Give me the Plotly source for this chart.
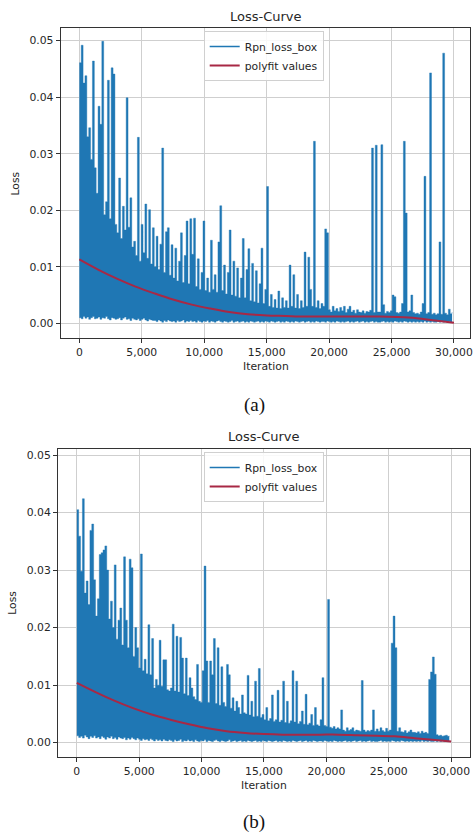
import plotly.graph_objects as go

W, H = 473, 835

# ---------------- data ----------------
BIN_STEP = 150  # iterations per bin
ITER_A = list(range(0, 30000, BIN_STEP))
ITER_B = list(range(0, 30000, BIN_STEP))

HIGH_A = [
    0.0461, 0.0492, 0.0425, 0.0438, 0.0330, 0.0346, 0.0290, 0.0464, 0.0275, 0.0230,
    0.0384, 0.0352, 0.0499, 0.0192, 0.0215, 0.0430, 0.0185, 0.0452, 0.0441, 0.0175,
    0.0160, 0.0257, 0.0150, 0.0207, 0.0165, 0.0399, 0.0170, 0.0222, 0.0135, 0.0145,
    0.0120, 0.0329, 0.0110, 0.0175, 0.0125, 0.0211, 0.0115, 0.0201, 0.0105, 0.0169,
    0.0100, 0.0154, 0.0095, 0.0140, 0.0310, 0.0090, 0.0162, 0.0169, 0.0085, 0.0139,
    0.0080, 0.0133, 0.0075, 0.0110, 0.0160, 0.0072, 0.0120, 0.0181, 0.0070, 0.0185,
    0.0122, 0.0186, 0.0065, 0.0114, 0.0060, 0.0090, 0.0181, 0.0058, 0.0080, 0.0055,
    0.0147, 0.0060, 0.0086, 0.0055, 0.0144, 0.0208, 0.0058, 0.0103, 0.0052, 0.0090,
    0.0165, 0.0050, 0.0110, 0.0048, 0.0098, 0.0045, 0.0080, 0.0150, 0.0045, 0.0095,
    0.0132, 0.0040, 0.0106, 0.0038, 0.0093, 0.0036, 0.0070, 0.0133, 0.0035, 0.0060,
    0.0242, 0.0030, 0.0051, 0.0028, 0.0042, 0.0027, 0.0057, 0.0026, 0.0045, 0.0028,
    0.0040, 0.0027, 0.0103, 0.0030, 0.0086, 0.0027, 0.0051, 0.0026, 0.0040, 0.0028,
    0.0126, 0.0030, 0.0117, 0.0060, 0.0030, 0.0322, 0.0028, 0.0040, 0.0026, 0.0035,
    0.0030, 0.0167, 0.0160, 0.0024, 0.0020, 0.0030, 0.0022, 0.0026, 0.0021, 0.0028,
    0.0022, 0.0030, 0.0019, 0.0025, 0.0030, 0.0020, 0.0023, 0.0018, 0.0024, 0.0020,
    0.0019, 0.0022, 0.0018, 0.0021, 0.0020, 0.0023, 0.0310, 0.0019, 0.0315, 0.0020,
    0.0020, 0.0316, 0.0033, 0.0018, 0.0021, 0.0019, 0.0022, 0.0050, 0.0047, 0.0019,
    0.0018, 0.0020, 0.0035, 0.0322, 0.0195, 0.0020, 0.0022, 0.0050, 0.0019, 0.0017,
    0.0018, 0.0016, 0.0020, 0.0035, 0.0260, 0.0017, 0.0019, 0.0443, 0.0016, 0.0018,
    0.0015, 0.0017, 0.0144, 0.0016, 0.0478, 0.0018, 0.0015, 0.0025, 0.0017, 0.0020,
]

LOW_A = [
    0.0010, 0.0008, 0.0012, 0.0009, 0.0011, 0.0007, 0.0010, 0.0012, 0.0008, 0.0009,
    0.0011, 0.0007, 0.0010, 0.0009, 0.0012, 0.0008, 0.0006, 0.0010, 0.0009, 0.0007,
    0.0008, 0.0010, 0.0006, 0.0009, 0.0011, 0.0007, 0.0008, 0.0005, 0.0009, 0.0007,
    0.0006, 0.0008, 0.0005, 0.0007, 0.0009, 0.0006, 0.0004, 0.0007, 0.0006, 0.0005,
    0.0005, 0.0003, 0.0006, 0.0004, 0.0002, 0.0005, 0.0003, 0.0006, 0.0004, 0.0003,
    0.0004, 0.0002, 0.0005, 0.0003, 0.0004, 0.0006, 0.0002, 0.0004, 0.0003, 0.0005,
    0.0003, 0.0004, 0.0002, 0.0005, 0.0003, 0.0002, 0.0004, 0.0003, 0.0005, 0.0002,
    0.0004, 0.0003, 0.0002, 0.0004, 0.0005, 0.0003, 0.0002, 0.0004, 0.0003, 0.0002,
    0.0003, 0.0005, 0.0002, 0.0003, 0.0004, 0.0002, 0.0003, 0.0004, 0.0002, 0.0003,
    0.0002, 0.0004, 0.0003, 0.0002, 0.0003, 0.0004, 0.0002, 0.0003, 0.0002, 0.0004,
    0.0003, 0.0002, 0.0004, 0.0003, 0.0002, 0.0003, 0.0004, 0.0002, 0.0003, 0.0002,
    0.0004, 0.0003, 0.0002, 0.0003, 0.0002, 0.0004, 0.0003, 0.0002, 0.0003, 0.0004,
    0.0002, 0.0003, 0.0004, 0.0002, 0.0003, 0.0002, 0.0004, 0.0003, 0.0002, 0.0003,
    0.0003, 0.0002, 0.0004, 0.0003, 0.0002, 0.0003, 0.0002, 0.0004, 0.0003, 0.0002,
    0.0003, 0.0002, 0.0003, 0.0004, 0.0002, 0.0003, 0.0002, 0.0003, 0.0004, 0.0002,
    0.0003, 0.0004, 0.0002, 0.0003, 0.0002, 0.0003, 0.0004, 0.0002, 0.0003, 0.0002,
    0.0002, 0.0003, 0.0004, 0.0002, 0.0003, 0.0002, 0.0003, 0.0002, 0.0004, 0.0003,
    0.0002, 0.0003, 0.0002, 0.0004, 0.0003, 0.0002, 0.0003, 0.0002, 0.0003, 0.0002,
    0.0003, 0.0002, 0.0003, 0.0002, 0.0004, 0.0002, 0.0003, 0.0002, 0.0003, 0.0002,
    0.0002, 0.0003, 0.0002, 0.0003, 0.0002, 0.0003, 0.0002, 0.0003, 0.0002, 0.0003,
]

HIGH_B = [
    0.0405, 0.0359, 0.0298, 0.0424, 0.0260, 0.0281, 0.0240, 0.0369, 0.0380, 0.0283,
    0.0220, 0.0250, 0.0327, 0.0330, 0.0335, 0.0342, 0.0300, 0.0215, 0.0246, 0.0200,
    0.0309, 0.0180, 0.0213, 0.0234, 0.0170, 0.0323, 0.0213, 0.0165, 0.0319, 0.0304,
    0.0150, 0.0200, 0.0165, 0.0130, 0.0328, 0.0125, 0.0145, 0.0120, 0.0205, 0.0118,
    0.0181, 0.0095, 0.0110, 0.0100, 0.0178, 0.0098, 0.0144, 0.0144, 0.0092, 0.0090,
    0.0095, 0.0206, 0.0090, 0.0185, 0.0088, 0.0183, 0.0147, 0.0085, 0.0147, 0.0082,
    0.0113, 0.0095, 0.0080, 0.0075, 0.0136, 0.0072, 0.0070, 0.0125, 0.0307, 0.0142,
    0.0070, 0.0142, 0.0118, 0.0181, 0.0068, 0.0165, 0.0065, 0.0132, 0.0070, 0.0063,
    0.0136, 0.0118, 0.0060, 0.0078, 0.0055, 0.0072, 0.0061, 0.0050, 0.0083, 0.0052,
    0.0050, 0.0117, 0.0048, 0.0072, 0.0045, 0.0107, 0.0046, 0.0129, 0.0044, 0.0049,
    0.0040, 0.0061, 0.0038, 0.0042, 0.0083, 0.0037, 0.0040, 0.0091, 0.0036, 0.0039,
    0.0107, 0.0035, 0.0072, 0.0034, 0.0038, 0.0125, 0.0036, 0.0107, 0.0033, 0.0037,
    0.0055, 0.0032, 0.0084, 0.0031, 0.0034, 0.0049, 0.0030, 0.0061, 0.0031, 0.0029,
    0.0040, 0.0113, 0.0030, 0.0028, 0.0249, 0.0027, 0.0025, 0.0028, 0.0024, 0.0026,
    0.0024, 0.0057, 0.0022, 0.0020, 0.0026, 0.0021, 0.0023, 0.0026, 0.0020, 0.0022,
    0.0021, 0.0020, 0.0108, 0.0022, 0.0019, 0.0021, 0.0020, 0.0022, 0.0057, 0.0020,
    0.0024, 0.0020, 0.0026, 0.0021, 0.0019, 0.0025, 0.0020, 0.0022, 0.0173, 0.0220,
    0.0165, 0.0020, 0.0026, 0.0019, 0.0018, 0.0021, 0.0017, 0.0019, 0.0022, 0.0018,
    0.0018, 0.0017, 0.0019, 0.0016, 0.0020, 0.0017, 0.0018, 0.0016, 0.0110, 0.0123,
    0.0149, 0.0119, 0.0014, 0.0012, 0.0013, 0.0011, 0.0012, 0.0013, 0.0011, 0.0012,
]

LOW_B = [
    0.0012, 0.0009, 0.0011, 0.0008, 0.0013, 0.0010, 0.0007, 0.0011, 0.0009, 0.0012,
    0.0008, 0.0010, 0.0007, 0.0011, 0.0009, 0.0006, 0.0010, 0.0008, 0.0011, 0.0007,
    0.0009, 0.0006, 0.0010, 0.0008, 0.0007, 0.0009, 0.0005, 0.0008, 0.0006, 0.0009,
    0.0007, 0.0005, 0.0008, 0.0006, 0.0004, 0.0007, 0.0005, 0.0006, 0.0004, 0.0007,
    0.0005, 0.0003, 0.0006, 0.0004, 0.0005, 0.0003, 0.0006, 0.0004, 0.0003, 0.0005,
    0.0004, 0.0002, 0.0005, 0.0003, 0.0004, 0.0006, 0.0002, 0.0004, 0.0003, 0.0005,
    0.0003, 0.0004, 0.0002, 0.0005, 0.0003, 0.0002, 0.0004, 0.0003, 0.0005, 0.0002,
    0.0004, 0.0003, 0.0002, 0.0004, 0.0005, 0.0003, 0.0002, 0.0004, 0.0003, 0.0002,
    0.0003, 0.0005, 0.0002, 0.0003, 0.0004, 0.0002, 0.0003, 0.0004, 0.0002, 0.0003,
    0.0002, 0.0004, 0.0003, 0.0002, 0.0003, 0.0004, 0.0002, 0.0003, 0.0002, 0.0004,
    0.0003, 0.0002, 0.0004, 0.0003, 0.0002, 0.0003, 0.0004, 0.0002, 0.0003, 0.0002,
    0.0004, 0.0003, 0.0002, 0.0003, 0.0002, 0.0004, 0.0003, 0.0002, 0.0003, 0.0004,
    0.0002, 0.0003, 0.0004, 0.0002, 0.0003, 0.0002, 0.0004, 0.0003, 0.0002, 0.0003,
    0.0003, 0.0002, 0.0004, 0.0003, 0.0002, 0.0003, 0.0002, 0.0004, 0.0003, 0.0002,
    0.0003, 0.0002, 0.0003, 0.0004, 0.0002, 0.0003, 0.0002, 0.0003, 0.0004, 0.0002,
    0.0003, 0.0004, 0.0002, 0.0003, 0.0002, 0.0003, 0.0004, 0.0002, 0.0003, 0.0002,
    0.0002, 0.0003, 0.0004, 0.0002, 0.0003, 0.0002, 0.0003, 0.0002, 0.0004, 0.0003,
    0.0002, 0.0003, 0.0002, 0.0004, 0.0003, 0.0002, 0.0003, 0.0002, 0.0003, 0.0002,
    0.0003, 0.0002, 0.0003, 0.0002, 0.0004, 0.0002, 0.0003, 0.0002, 0.0003, 0.0002,
    0.0002, 0.0003, 0.0002, 0.0003, 0.0002, 0.0003, 0.0002, 0.0003, 0.0002, 0.0003,
]

FIT_ITER = [0, 1500, 3000, 4500, 6000, 7500, 9000, 10500, 12000, 13500, 15000,
            16500, 18000, 19500, 21000, 22500, 24000, 25500, 27000, 28500, 30000]
FIT_A = [0.0113, 0.0095, 0.0079, 0.0065, 0.0053, 0.0042, 0.0033, 0.0026, 0.0020, 0.0016,
         0.0014, 0.0013, 0.0012, 0.0012, 0.0012, 0.0012, 0.0012, 0.0011, 0.0009, 0.0005, 0.0001]
FIT_B = [0.0104, 0.0088, 0.0073, 0.0060, 0.0049, 0.0040, 0.0032, 0.0025, 0.0020, 0.0017,
         0.0015, 0.0014, 0.0014, 0.0014, 0.0014, 0.0013, 0.0012, 0.0011, 0.0008, 0.0005, 0.0002]

X_TICKS = [0, 5000, 10000, 15000, 20000, 25000, 30000]
Y_TICKS = [0.00, 0.01, 0.02, 0.03, 0.04, 0.05]
TITLE = "Loss-Curve"
SERIES_NAME = "Rpn_loss_box"
FIT_NAME = "polyfit values"

# ---------------- style ----------------
BLUE = "#1f77b4"
RED = "#a82845"
FONT = "DejaVu Sans"
FS = 10.8
TXT = "#262626"


def px(x):
    return x / W


def py(y):
    return 1 - y / H


fig = go.Figure()

panels = [
    dict(iters=ITER_A, low=LOW_A, high=HIGH_A, fit=FIT_A, xa="x", ya="y", legend="legend",
         left=61, top=28, bottom=338.3, xr=[-1500, 31284], yr=[-0.002654, 0.052247],
         title_y=17, xlab_y=366.5, ylab_x=15.5, cap_y=405, center_x=268, cap="(a)"),
    dict(iters=ITER_B, low=LOW_B, high=HIGH_B, fit=FIT_B, xa="x2", ya="y2", legend="legend2",
         left=58.3, top=449, bottom=756.7, xr=[-1513, 31512], yr=[-0.002433, 0.051043],
         title_y=436.7, xlab_y=785.5, ylab_x=13, cap_y=822, center_x=266, cap="(b)"),
]

for p in panels:
    # lower envelope of the dense loss trace
    fig.add_trace(go.Scatter(x=p["iters"], y=p["low"], mode="lines",
                             line=dict(color=BLUE, width=0.4, shape="hv"),
                             xaxis=p["xa"], yaxis=p["ya"], showlegend=False, hoverinfo="skip"))
    # upper envelope, filled down to the lower one
    fig.add_trace(go.Scatter(x=p["iters"], y=p["high"], mode="lines",
                             line=dict(color=BLUE, width=0.4, shape="hv"),
                             fill="tonexty", fillcolor=BLUE,
                             xaxis=p["xa"], yaxis=p["ya"], showlegend=False, hoverinfo="skip"))
    # legend entry for the loss series
    fig.add_trace(go.Scatter(x=[None], y=[None], mode="lines", name=SERIES_NAME,
                             line=dict(color=BLUE, width=1.6), xaxis=p["xa"], yaxis=p["ya"],
                             legend=p["legend"]))
    fig.add_trace(go.Scatter(x=FIT_ITER, y=p["fit"], mode="lines", name=FIT_NAME,
                             line=dict(color=RED, width=2, shape="spline"),
                             xaxis=p["xa"], yaxis=p["ya"], legend=p["legend"], hoverinfo="skip"))

axis_common = dict(showgrid=True, gridcolor="#cfcfcf", gridwidth=0.8, zeroline=False,
                   showline=True, linecolor="#333333", linewidth=1, mirror=True,
                   ticks="outside", ticklen=4, tickcolor="#333333", tickwidth=0.8,
                   ticklabeloverflow="allow",
                   tickfont=dict(family=FONT, size=FS, color=TXT))

layout = dict(width=W, height=H, margin=dict(l=0, r=0, t=0, b=0),
              paper_bgcolor="white", plot_bgcolor="white", showlegend=True,
              font=dict(family=FONT, size=FS, color=TXT))

annotations = []
for i, p in enumerate(panels):
    sfx = "" if i == 0 else "2"
    layout["xaxis" + sfx] = dict(axis_common, domain=[px(p["left"]), 1.0], range=p["xr"],
                                 tickvals=X_TICKS, tickformat=",d", anchor="y" + sfx)
    layout["yaxis" + sfx] = dict(axis_common, domain=[py(p["bottom"]), py(p["top"])],
                                 range=p["yr"], tickvals=Y_TICKS, tickformat=".2f",
                                 anchor="x" + sfx)
    layout[p["legend"]] = dict(x=px(205), y=py(p["top"] + 3), xanchor="left", yanchor="top",
                               bgcolor="rgba(255,255,255,0.85)", bordercolor="#d0d0d0",
                               borderwidth=1, font=dict(family=FONT, size=FS, color=TXT),
                               tracegroupgap=0, itemwidth=30, traceorder="normal")
    annotations += [
        dict(text=TITLE, x=px(p["center_x"]), y=py(p["title_y"]), xref="paper", yref="paper",
             showarrow=False, xanchor="center", yanchor="middle",
             font=dict(family=FONT, size=13, color=TXT)),
        dict(text="Iteration", x=px(p["center_x"]), y=py(p["xlab_y"]), xref="paper", yref="paper",
             showarrow=False, xanchor="center", yanchor="middle",
             font=dict(family=FONT, size=FS, color=TXT)),
        dict(text="Loss", x=px(p["ylab_x"]), y=py((p["top"] + p["bottom"]) / 2), xref="paper",
             yref="paper", showarrow=False, xanchor="center", yanchor="middle", textangle=-90,
             font=dict(family=FONT, size=FS, color=TXT)),
        dict(text=p["cap"], x=px(256), y=py(p["cap_y"]), xref="paper", yref="paper",
             showarrow=False, xanchor="center", yanchor="middle",
             font=dict(family="Liberation Serif", size=19, color="#111111")),
    ]

layout["annotations"] = annotations
fig.update_layout(**layout)
fig.write_html(
    "out.html",
    config={"displayModeBar": False},
    post_script="document.body.style.margin='0px';document.body.style.padding='0px';"
                "document.documentElement.style.overflow='hidden';",
)
